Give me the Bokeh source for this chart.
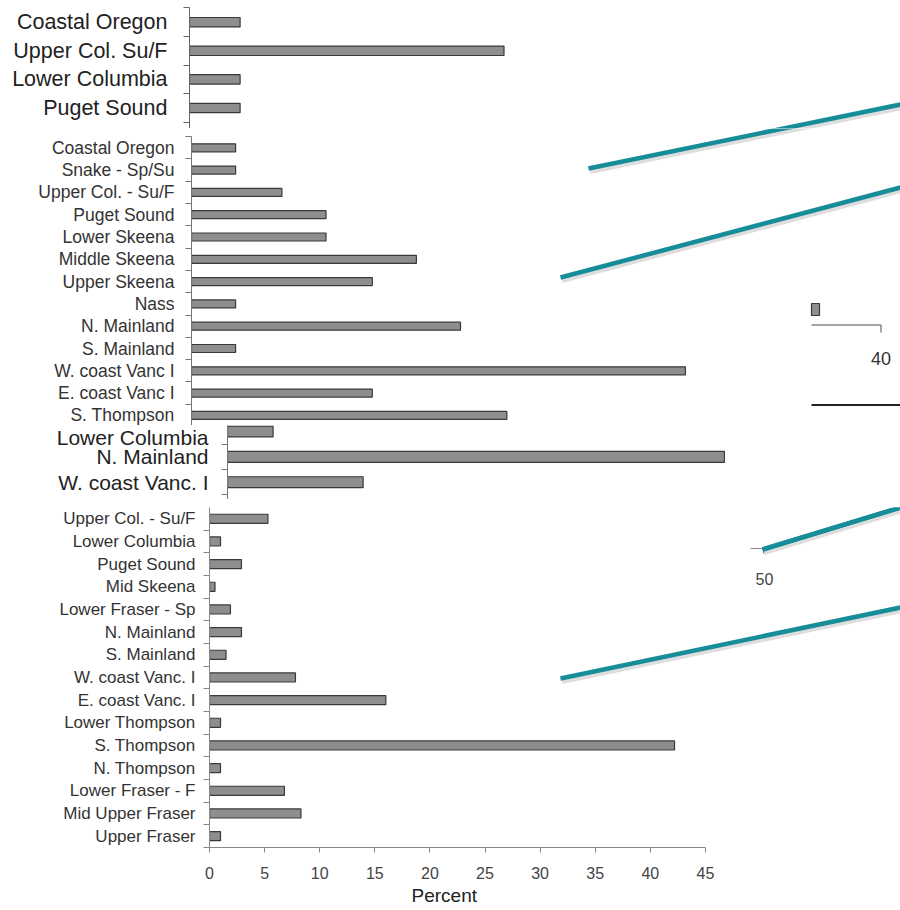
from bokeh.plotting import figure
from bokeh.layouts import column
from bokeh.models import Range1d, FixedTicker, Title
from bokeh.core.properties import value
from bokeh.embed import file_html
from bokeh.resources import INLINE

FONT = "Liberation Sans"

# ---------------- data ----------------
a_labels = ["Coastal Oregon", "Upper Col. Su/F", "Lower Columbia", "Puget Sound"]
a_values = [4.2, 26.1, 4.2, 4.2]

b_labels = ["Coastal Oregon", "Snake - Sp/Su", "Upper Col. - Su/F", "Puget Sound",
            "Lower Skeena", "Middle Skeena", "Upper Skeena", "Nass", "N. Mainland",
            "S. Mainland", "W. coast Vanc I", "E. coast Vanc I", "S. Thompson"]
b_values = [2.0, 2.0, 4.1, 6.1, 6.1, 10.2, 8.2, 2.0, 12.2, 2.0, 22.4, 8.2, 14.3]

c_labels = ["Lower Columbia", "N. Mainland", "W. coast Vanc. I"]
c_values = [4.2, 45.8, 12.5]

d_labels = ["Upper Col. - Su/F", "Lower Columbia", "Puget Sound", "Mid Skeena",
            "Lower Fraser - Sp", "N. Mainland", "S. Mainland", "W. coast Vanc. I",
            "E. coast Vanc. I", "Lower Thompson", "S. Thompson", "N. Thompson",
            "Lower Fraser - F", "Mid Upper Fraser", "Upper Fraser"]
d_values = [5.3, 1.0, 2.9, 0.5, 1.9, 2.9, 1.5, 7.8, 16.0, 1.0, 42.2, 1.0, 6.8, 8.3, 1.0]
d_ticks = [0, 5, 10, 15, 20, 25, 30, 35, 40, 45]
d_xlabel = "Percent"

# callout lines (page pixel layout: x0, y0, x1, y1)
callouts = [(588, 168, 900, 104), (560, 277, 900, 187),
            (762, 549, 900, 507), (560, 678, 900, 607)]
TEAL = "#178d99"

W = 900


def make_panel(labels, values, top, height, left, btop, bbot, pitch, center0,
               ppu, fsize, standoff, bar_h, color="#333333", axis_color="#777777"):
    ftop = top + btop
    fbot = top + height - bbot
    y_top = (ftop - center0) / pitch
    y_bot = (fbot - center0) / pitch
    n = len(labels)
    p = figure(width=W, height=height, output_backend="svg", toolbar_location=None,
               x_range=Range1d(0, (W - left) / ppu), y_range=Range1d(y_bot, y_top),
               x_axis_location=None if bbot == 0 else "below",
               min_border_left=left, min_border_right=0,
               min_border_top=btop, min_border_bottom=bbot,
               outline_line_color=None, background_fill_color="white",
               border_fill_color="white", frame_align=False)
    p.extra_x_ranges = {"px": Range1d(left, W)}
    p.extra_y_ranges = {"px": Range1d(fbot, ftop)}
    p.xgrid.visible = False
    p.ygrid.visible = False
    ya = p.yaxis[0]
    ya.ticker = FixedTicker(ticks=list(range(n)),
                            minor_ticks=[i - 0.5 for i in range(n + 1)])
    ya.major_label_overrides = {i: lab for i, lab in enumerate(labels)}
    ya.major_tick_out = 0
    ya.major_tick_in = 0
    ya.minor_tick_out = 6
    ya.minor_tick_in = 0
    ya.bounds = (max(-0.5001, y_top), y_bot)
    ya.axis_line_color = axis_color
    ya.minor_tick_line_color = axis_color
    ya.major_label_text_font = FONT
    ya.major_label_text_font_size = fsize
    ya.major_label_text_color = color
    ya.major_label_standoff = standoff
    p.hbar(y=list(range(n)), right=values, left=0, height=bar_h,
           fill_color="#8e8e8e", line_color="#3a3a3a", line_width=1.2)
    # teal callout lines (with soft shadow)
    x0 = [c[0] for c in callouts]
    y0 = [c[1] for c in callouts]
    x1 = [c[2] for c in callouts]
    y1 = [c[3] for c in callouts]
    p.segment(x0=[v + 1.5 for v in x0], y0=[v + 3 for v in y0],
              x1=[v + 1.5 for v in x1], y1=[v + 3 for v in y1],
              line_color="black", line_alpha=0.13, line_width=5,
              x_range_name="px", y_range_name="px")
    p.segment(x0=x0, y0=y0, x1=x1, y1=y1, line_color=TEAL, line_width=4.5,
              x_range_name="px", y_range_name="px")
    return p


pA = make_panel(a_labels, a_values, 0, 128, 189, 0, 0, 28.6, 21.7, 12.05,
                "21.5px", 16, 0.33, color="#222222", axis_color="#666666")
pB = make_panel(b_labels, b_values, 128, 297, 191, 0, 0, 22.3, 147.3, 22.05,
                "17.5px", 11, 0.36)
pC = make_panel(c_labels, c_values, 425, 74, 227, 0, 0, 25.35, 431, 10.85,
                "21px", 13, 0.43, color="#222222")
pD = make_panel(d_labels, d_values, 499, 411, 209, 8, 63, 22.667, 518.3, 11.02,
                "17px", 8, 0.4, axis_color="#888888")

# fragment of a neighbouring chart inside panel B (x axis piece with "40")
pB.quad(left=[811], right=[819], top=[303], bottom=[315],
        fill_color="#8e8e8e", line_color="#3a3a3a", line_width=1.2,
        x_range_name="px", y_range_name="px")
pB.line(x=[811, 880.5, 880.5], y=[324.5, 324.5, 332], line_color="#888888",
        line_width=1.5, x_range_name="px", y_range_name="px")
pB.text(x=[880.5], y=[358], text=["40"], text_font=value(FONT),
        text_font_size="18px", text_color="#333333", text_align="center",
        text_baseline="middle", x_range_name="px", y_range_name="px")
pB.segment(x0=[811], y0=[404.5], x1=[900], y1=[404.5], line_color="#222222",
           line_width=2, x_range_name="px", y_range_name="px")

# fragment with "50" inside panel D
pD.line(x=[750, 763, 763], y=[548, 548, 553], line_color="#888888",
        line_width=1.2, x_range_name="px", y_range_name="px")
pD.text(x=[764], y=[578], text=["50"], text_font=value(FONT),
        text_font_size="16px", text_color="#444444", text_align="center",
        text_baseline="middle", x_range_name="px", y_range_name="px")
# redraw teal line 3 on top of the fragment
pD.segment(x0=[callouts[2][0]], y0=[callouts[2][1]], x1=[callouts[2][2]],
           y1=[callouts[2][3]], line_color=TEAL, line_width=4.5,
           x_range_name="px", y_range_name="px")

xa = pD.xaxis[0]
xa.ticker = FixedTicker(ticks=d_ticks)
xa.bounds = (-0.35, 45)
xa.major_tick_out = 5
xa.major_tick_in = 0
xa.minor_tick_line_color = None
xa.axis_line_color = "#888888"
xa.major_tick_line_color = "#888888"
xa.major_label_text_font = FONT
xa.major_label_text_font_size = "16px"
xa.major_label_text_color = "#444444"
xa.major_label_standoff = 14

# axis title under the 0-45 scale
pD.add_layout(Title(text=d_xlabel, align="left", offset=202, standoff=3,
                    text_font=FONT, text_font_size="19px",
                    text_font_style="normal", text_color="#222222"), "below")

layout = column(pA, pB, pC, pD, spacing=0)
open("out.html", "w").write(file_html(layout, INLINE))
